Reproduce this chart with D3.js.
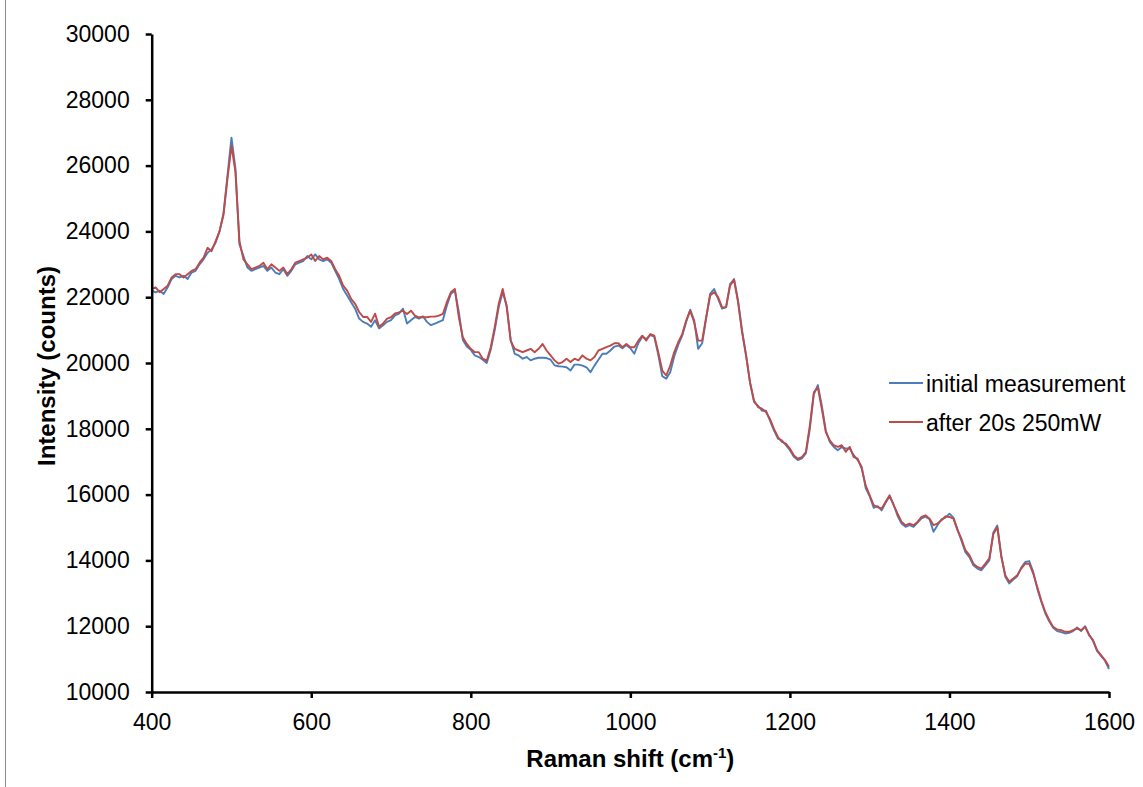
<!DOCTYPE html>
<html>
<head>
<meta charset="utf-8">
<script src="https://cdn.jsdelivr.net/npm/d3@7"></script>
<style>
  body { margin: 0; background: #fff; }
  text { font-family: "Liberation Sans", Arial, sans-serif; fill: #000; }
</style>
</head>
<body>
<script>

// Raman shift sampled every 5 cm-1 from 400 to 1600
var shift = d3.range(400, 1601, 5);

var initial = [
  22200, 22150, 22200, 22100, 22300, 22550, 22650, 22600, 22650, 22550,
  22750, 22800, 23000, 23150, 23350, 23450, 23650, 24000, 24550, 25700,
  26850, 25900, 23600, 23250, 22900, 22800, 22850, 22900, 22950, 22800,
  22900, 22750, 22700, 22850, 22650, 22800, 23000, 23050, 23100, 23250,
  23150, 23300, 23150, 23100, 23150, 23050, 22800, 22550, 22250, 22050,
  21850, 21650, 21350, 21250, 21200, 21100, 21300, 21050, 21150, 21250,
  21300, 21450, 21500, 21650, 21200, 21300, 21400, 21350, 21420, 21250,
  21150, 21200, 21250, 21300, 21750, 22100, 22200, 21550, 20700, 20500,
  20400, 20230, 20180, 20100, 20000, 20400, 21000, 21700, 22150, 21750,
  20700, 20280, 20230, 20130, 20180, 20080, 20130, 20160, 20160, 20150,
  20100, 19930, 19900, 19890, 19870, 19770, 19950, 19950, 19920, 19870,
  19720, 19920, 20100, 20280, 20280, 20380, 20500, 20530, 20450, 20550,
  20450, 20280, 20600, 20800, 20730, 20850, 20800, 20250, 19600, 19520,
  19720, 20200, 20550, 20830, 21250, 21620, 21300, 20430, 20600, 21350,
  22100, 22250, 21950, 21650, 21700, 22400, 22550, 21900, 21000, 20250,
  19400, 18820, 18700, 18550, 18550, 18250, 17950, 17700, 17650, 17500,
  17350, 17150, 17050, 17100, 17250, 18000, 19050, 19330, 18700, 17950,
  17600, 17450, 17350, 17450, 17400, 17400, 17200, 17050, 16850, 16200,
  15950, 15600, 15650, 15520, 15750, 15950, 15700, 15350, 15120, 15020,
  15070, 15020, 15150, 15280, 15330, 15250, 14870, 15070, 15250, 15300,
  15420, 15300, 14950, 14600, 14250, 14100, 13850, 13750, 13700, 13850,
  14000, 14850, 15060, 14150, 13500, 13300, 13420, 13520, 13780, 13950,
  13980, 13650, 13150, 12750, 12400, 12150, 11950, 11850, 11820, 11780,
  11800, 11850, 11960, 11850, 12000, 11750, 11550, 11250, 11100, 10950,
  10700
];

var after = [
  22250, 22300, 22150, 22250, 22350, 22600, 22700, 22700, 22600, 22700,
  22800, 22850, 23050, 23200, 23500, 23400, 23700, 24000, 24500, 25600,
  26600, 25800, 23700, 23150, 23000, 22850, 22900, 22950, 23050, 22850,
  23000, 22900, 22800, 22900, 22700, 22850, 23050, 23100, 23150, 23200,
  23300, 23100, 23250, 23150, 23200, 23100, 22850, 22650, 22350, 22200,
  21950, 21800, 21550, 21400, 21400, 21250, 21500, 21100, 21200, 21350,
  21390, 21510, 21540, 21590, 21490, 21590, 21440, 21390, 21390, 21390,
  21410, 21410, 21440, 21490, 21850, 22150, 22250, 21390, 20780, 20580,
  20430, 20330, 20330, 20130, 20070, 20480, 21090, 21800, 22250, 21700,
  20680, 20430, 20380, 20330, 20380, 20430, 20330, 20430, 20580, 20380,
  20230, 20080, 19980, 20030, 20130, 20030, 20130, 20080, 20230, 20130,
  20080, 20180, 20380, 20430, 20480, 20530, 20600, 20600, 20480, 20580,
  20480, 20480, 20680, 20830, 20680, 20880, 20830, 20330, 19770, 19620,
  19920, 20330, 20630, 20880, 21290, 21590, 21240, 20680, 20680, 21390,
  22050, 22150, 22000, 21690, 21690, 22350, 22530, 21850, 20940, 20230,
  19420, 18860, 18660, 18610, 18510, 18300, 18000, 17750, 17600, 17550,
  17400, 17190, 17090, 17140, 17290, 18100, 19110, 19260, 18610, 17900,
  17650, 17500, 17450, 17500, 17300, 17450, 17140, 17090, 16790, 16280,
  15980, 15680, 15620, 15570, 15780, 15980, 15680, 15420, 15170, 15070,
  15120, 15070, 15170, 15320, 15370, 15270, 15070, 15120, 15220, 15340,
  15320, 15270, 14920, 14660, 14310, 14160, 13900, 13800, 13750, 13900,
  14060, 14800, 15000, 14110, 13550, 13350, 13450, 13550, 13750, 13900,
  13900, 13600, 13200, 12790, 12440, 12190, 11980, 11900, 11880, 11830,
  11830, 11880, 11930, 11880, 11980, 11730, 11580, 11270, 11120, 10970,
  10770
];

var xTicks = [400, 600, 800, 1000, 1200, 1400, 1600];
var yTicks = [10000, 12000, 14000, 16000, 18000, 20000, 22000, 24000, 26000, 28000, 30000];
var seriesNames = ["initial measurement", "after 20s 250mW"];
var seriesColors = ["#4a7ebb", "#be4b48"];

var width = 1143,
    height = 787,
    plotLeft = 151.7,
    plotRight = 1109,
    plotTop = 34,
    plotBottom = 692;

var svg = d3.select("body")
    .append("svg")
    .attr("width", width)
    .attr("height", height);

// outer chart border
svg.append("line")
    .attr("x1", 5.5).attr("x2", 5.5)
    .attr("y1", 0).attr("y2", height)
    .attr("stroke", "#8c8c8c")
    .attr("stroke-width", 1);

var x = d3.scaleLinear().domain([400, 1600]).range([plotLeft, plotRight]);
var y = d3.scaleLinear().domain([10000, 30000]).range([plotBottom, plotTop]);

var line = d3.line()
    .x(function(d) { return x(d[0]); })
    .y(function(d) { return y(d[1]); });

[initial, after].forEach(function(vals, i) {
    svg.append("path")
        .datum(shift.map(function(s, j) { return [s, vals[j]]; }))
        .attr("fill", "none")
        .attr("stroke", seriesColors[i])
        .attr("stroke-width", 1.9)
        .attr("stroke-linejoin", "round")
        .attr("d", line);
});

// axes
var yAxis = svg.append("g")
    .attr("transform", "translate(" + plotLeft + ",0)")
    .call(d3.axisLeft(y).tickValues(yTicks).tickFormat(d3.format("d"))
        .tickSize(6).tickSizeOuter(0).tickPadding(16));

var xAxis = svg.append("g")
    .attr("transform", "translate(0," + plotBottom + ")")
    .call(d3.axisBottom(x).tickValues(xTicks).tickFormat(d3.format("d"))
        .tickSize(6).tickSizeOuter(0).tickPadding(16));

[xAxis, yAxis].forEach(function(g) {
    g.select(".domain").attr("stroke", "#000").attr("stroke-width", 2.5);
    g.selectAll(".tick line").attr("stroke", "#000").attr("stroke-width", 2.5);
    g.selectAll(".tick text")
        .style("font-family", "'Liberation Sans', Arial, sans-serif")
        .style("font-size", "23px")
        .attr("fill", "#000");
});

// axis titles
var xt = svg.append("text")
    .attr("x", (plotLeft + plotRight) / 2)
    .attr("y", 767)
    .attr("text-anchor", "middle")
    .style("font-size", "24px")
    .style("font-weight", "bold");
xt.append("tspan").text("Raman shift (cm");
xt.append("tspan").attr("dy", -9).style("font-size", "15px").text("-1");
xt.append("tspan").attr("dy", 9).text(")");

svg.append("text")
    .attr("transform", "translate(55,366) rotate(-90)")
    .attr("text-anchor", "middle")
    .style("font-size", "24px")
    .style("font-weight", "bold")
    .text("Intensity (counts)");

// legend
var legend = svg.selectAll(".legend")
    .data(seriesNames)
    .enter()
    .append("g")
    .attr("class", "legend")
    .attr("transform", function(d, i) {
        return "translate(889," + (383 + i * 39) + ")";
    });

legend.append("line")
    .attr("x1", 0).attr("x2", 34)
    .attr("y1", 0).attr("y2", 0)
    .attr("stroke", function(d, i) { return seriesColors[i]; })
    .attr("stroke-width", 1.9);

legend.append("text")
    .attr("x", 37)
    .attr("y", 9)
    .style("font-size", "23px")
    .text(function(d) { return d; });

</script>
</body>
</html>
